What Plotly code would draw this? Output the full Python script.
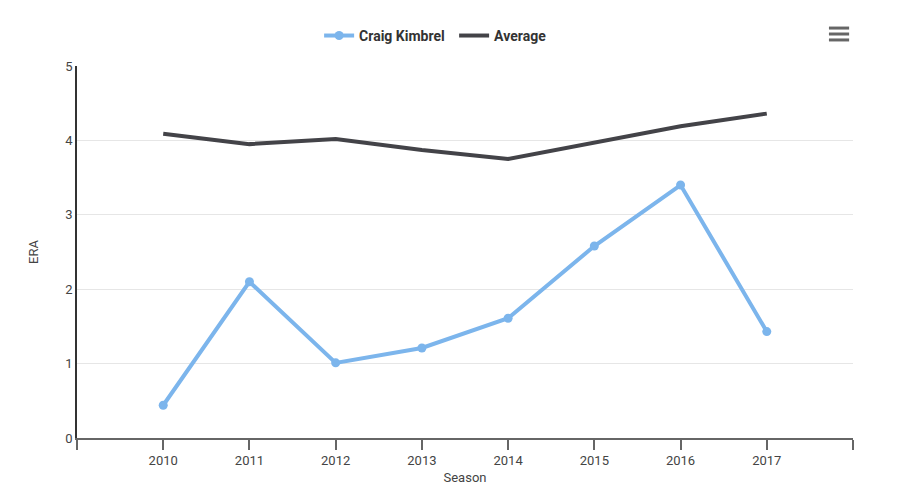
import plotly.graph_objects as go

seasons = [2010, 2011, 2012, 2013, 2014, 2015, 2016, 2017]
kimbrel_era = [0.44, 2.10, 1.01, 1.21, 1.61, 2.58, 3.40, 1.43]
average_era = [4.09, 3.95, 4.02, 3.87, 3.75, 3.97, 4.19, 4.36]
x_tick_vals = [2009, 2010, 2011, 2012, 2013, 2014, 2015, 2016, 2017, 2018]
x_tick_text = ["", "2010", "2011", "2012", "2013", "2014", "2015", "2016", "2017", ""]
y_tick_vals = [0, 1, 2, 3, 4, 5]

fig = go.Figure()
fig.add_trace(go.Scatter(
    x=seasons, y=kimbrel_era, name="Craig Kimbrel", mode="lines+markers",
    line=dict(color="#7cb5ec", width=4), marker=dict(size=9, color="#7cb5ec"),
))
fig.add_trace(go.Scatter(
    x=seasons, y=average_era, name="Average", mode="lines",
    line=dict(color="#434348", width=4),
))

fig.update_layout(
    width=900, height=499,
    margin=dict(l=77, r=47, t=66, b=61, autoexpand=False),
    paper_bgcolor="white", plot_bgcolor="white",
    font=dict(family="Roboto", size=13, color="#444"),
    showlegend=True,
    legend=dict(orientation="h", x=0.312, xanchor="left", y=0.928, yanchor="middle",
                yref="container", font=dict(size=14, color="#333", weight="bold"),
                itemwidth=30, entrywidth=90),
    xaxis=dict(
        range=[2009, 2018], tickmode="array", tickvals=x_tick_vals, ticktext=x_tick_text,
        showgrid=False, zeroline=False, showline=True, linecolor="#666", linewidth=1.5,
        ticks="outside", ticklen=10, tickcolor="#666", tickwidth=1.5,
        title=dict(text="Season", font=dict(size=13, color="#444"), standoff=6),
        tickfont=dict(size=13, color="#444"),
    ),
    yaxis=dict(
        range=[0, 5], tickmode="array", tickvals=y_tick_vals,
        showgrid=True, gridcolor="#e6e6e6", gridwidth=1, zeroline=False,
        showline=True, linecolor="#333", linewidth=1.5, ticks="",
        title=dict(text="ERA", font=dict(size=13, color="#444"), standoff=24),
        tickfont=dict(size=13, color="#444"),
    ),
)

for yy in [1.102, 1.086, 1.070]:
    fig.add_shape(type="line", xref="paper", yref="paper", x0=0.969, x1=0.995,
                  y0=yy, y1=yy, line=dict(color="#666", width=3))

fig.write_html("out.html", config={"displayModeBar": False},
               post_script="document.body.style.margin='0';document.body.style.padding='0';")
